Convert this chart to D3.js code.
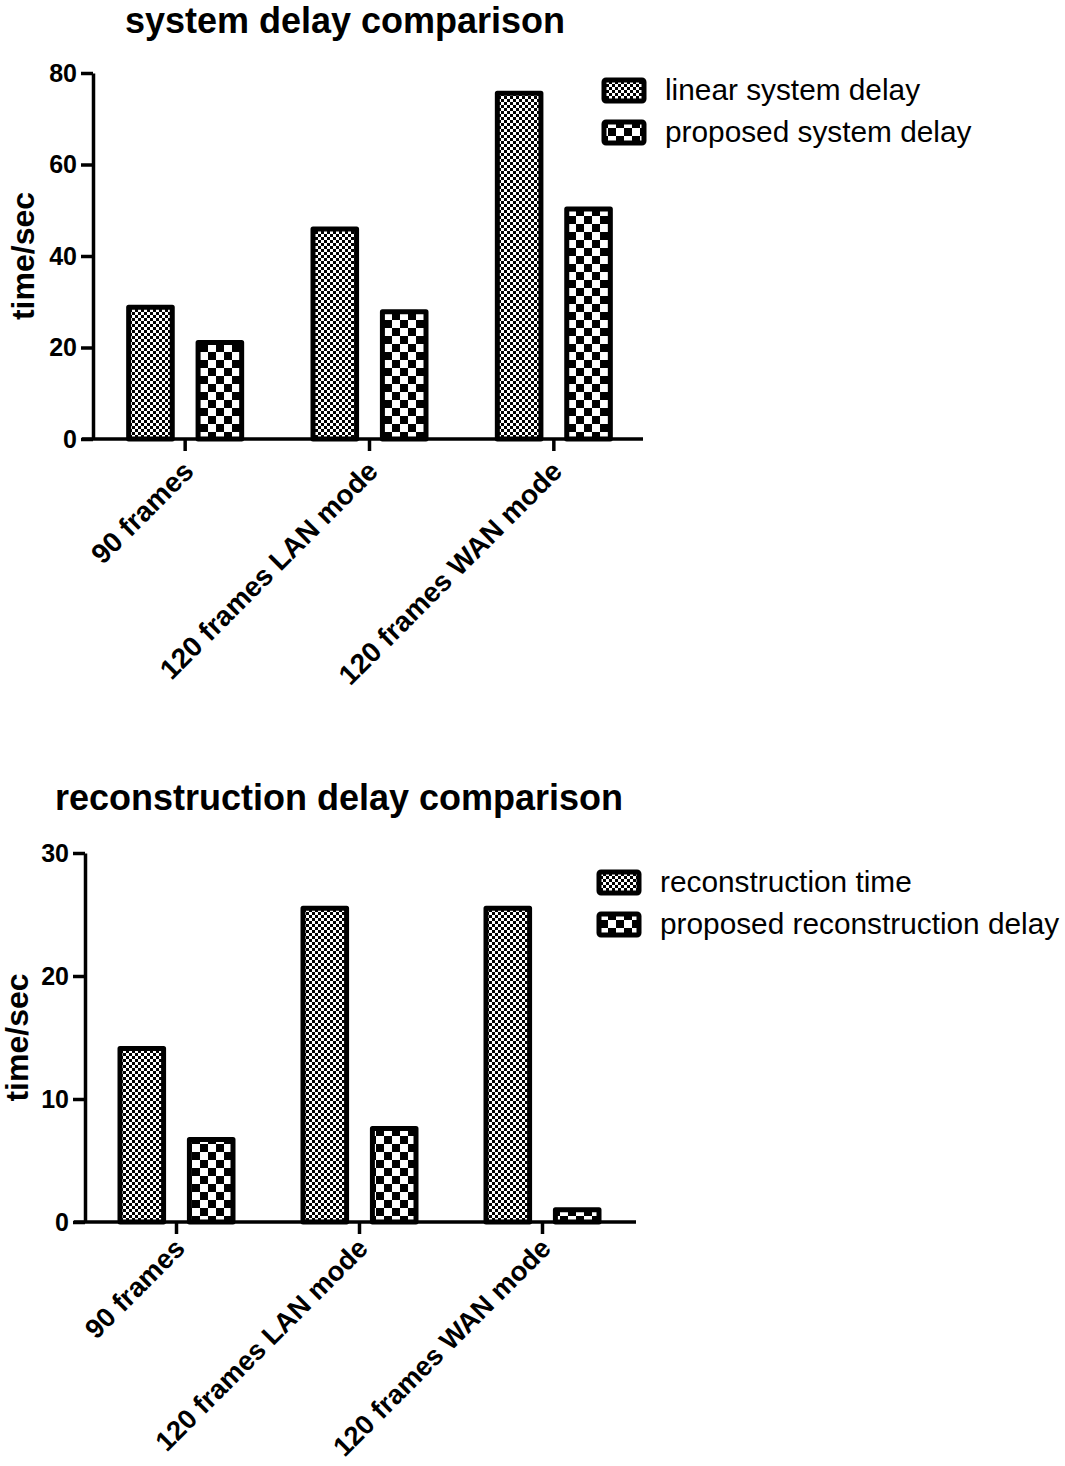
<!DOCTYPE html>
<html>
<head>
<meta charset="utf-8">
<script src="https://cdn.jsdelivr.net/npm/d3@7/dist/d3.min.js"></script>
<style>
  html, body { margin: 0; padding: 0; background: #fff; }
  svg { display: block; font-family: "Liberation Sans", Arial, sans-serif; }
</style>
</head>
<body>
<svg id="chart" width="1065" height="1466"></svg>
<script>
// ---- data ----
const categories = ["90 frames", "120 frames LAN mode", "120 frames WAN mode"];

const chart1Title = "system delay comparison";
const chart1Series = ["linear system delay", "proposed system delay"];
const linearSystemDelay = [28.8, 45.9, 75.6];
const proposedSystemDelay = [21.1, 27.8, 50.3];
const chart1Ticks = [0, 20, 40, 60, 80];

const chart2Title = "reconstruction delay comparison";
const chart2Series = ["reconstruction time", "proposed reconstruction delay"];
const reconstructionTime = [14.1, 25.5, 25.5];
const proposedReconstructionDelay = [6.7, 7.6, 1.0];
const chart2Ticks = [0, 10, 20, 30];

const yLabel = "time/sec";

// ---- drawing ----
const svg = d3.select("#chart");
const defs = svg.append("defs");

// fine checkerboard
const pf = defs.append("pattern").attr("id", "fine")
  .attr("patternUnits", "userSpaceOnUse").attr("width", 6).attr("height", 6);
pf.append("rect").attr("width", 6).attr("height", 6).attr("fill", "#fff");
pf.append("rect").attr("x", 0).attr("y", 0).attr("width", 3).attr("height", 3).attr("fill", "#000");
pf.append("rect").attr("x", 3).attr("y", 3).attr("width", 3).attr("height", 3).attr("fill", "#000");

// coarse checkerboard
const pc = defs.append("pattern").attr("id", "coarse")
  .attr("patternUnits", "userSpaceOnUse").attr("width", 16).attr("height", 16);
pc.append("rect").attr("width", 16).attr("height", 16).attr("fill", "#fff");
pc.append("rect").attr("x", 0).attr("y", 0).attr("width", 8).attr("height", 8).attr("fill", "#000");
pc.append("rect").attr("x", 8).attr("y", 8).attr("width", 8).attr("height", 8).attr("fill", "#000");

const patterns = ["url(#fine)", "url(#coarse)"];

function drawChart(cfg) {
  const g = svg.append("g");
  const y = d3.scaleLinear().domain(cfg.domain).range([cfg.y0, cfg.y1]);
  const x = d3.scaleBand().domain(categories).range([cfg.xL, cfg.xR]);
  const inner = d3.scaleBand().domain([0, 1]).range([-cfg.groupHalf, cfg.groupHalf]).paddingInner(cfg.innerPad);

  // title
  g.append("text").attr("x", cfg.titleX).attr("y", cfg.titleY)
    .attr("text-anchor", "middle").attr("font-weight", "bold").attr("font-size", 36)
    .text(cfg.title);

  // bars
  const series = cfg.series;
  series.forEach((vals, si) => {
    g.selectAll(null).data(vals).enter().append("rect")
      .attr("x", (d, i) => x(categories[i]) + x.bandwidth() / 2 + inner(si) + 2.5)
      .attr("y", d => y(d))
      .attr("width", inner.bandwidth() - 5)
      .attr("height", d => y(0) - y(d))
      .attr("fill", patterns[si])
      .attr("stroke", "#000").attr("stroke-width", 5)
      .attr("stroke-linejoin", "round");
  });

  // y axis
  const yAxis = d3.axisLeft(y).tickValues(cfg.ticks).tickSize(12).tickPadding(4).tickSizeOuter(0);
  const ya = g.append("g").attr("transform", `translate(${cfg.xL},0)`).call(yAxis);
  ya.select(".domain").attr("stroke", "#000").attr("stroke-width", 3.5);
  ya.selectAll(".tick line").attr("stroke", "#000").attr("stroke-width", 3.5);
  ya.selectAll(".tick text").attr("font-size", 25).attr("font-weight", "bold")
    .attr("font-family", "Liberation Sans, Arial, sans-serif").attr("fill", "#000");

  // x axis
  const xAxis = d3.axisBottom(x).tickSize(12).tickSizeOuter(0).tickFormat("");
  const xa = g.append("g").attr("transform", `translate(0,${y(0)})`).call(xAxis);
  xa.select(".domain").attr("stroke", "#000").attr("stroke-width", 3.5)
    .attr("d", `M${cfg.xL - 11},0H${cfg.axisEnd}`);
  xa.selectAll(".tick line").attr("stroke", "#000").attr("stroke-width", 3.5);

  // x labels rotated
  g.selectAll(null).data(categories).enter().append("text")
    .attr("transform", d => `translate(${x(d) + x.bandwidth() / 2 + 10},${y(0) + cfg.labelOffset}) rotate(-45)`)
    .attr("text-anchor", "end").attr("font-weight", "bold").attr("font-size", cfg.labelSize)
    .text(d => d);

  // y label
  g.append("text")
    .attr("transform", `translate(${cfg.yLabelX},${(y(0) + y(cfg.domain[1])) / 2}) rotate(-90)`)
    .attr("text-anchor", "middle").attr("font-weight", "bold").attr("font-size", 32)
    .text(yLabel);

  // legend
  cfg.legendNames.forEach((name, i) => {
    const ly = cfg.legendY + i * 42;
    g.append("rect").attr("x", cfg.legendX + 2).attr("y", ly + 2)
      .attr("width", 40).attr("height", 21)
      .attr("fill", patterns[i]).attr("stroke", "#000").attr("stroke-width", 5)
      .attr("rx", 2).attr("stroke-linejoin", "round");
    g.append("text").attr("x", cfg.legendX + 63).attr("y", ly + 22)
      .attr("font-size", 29.8).text(name);
  });
}

drawChart({
  title: chart1Title, titleX: 345, titleY: 33,
  domain: [0, 80], ticks: chart1Ticks, y0: 439, y1: 73,
  xL: 93, xR: 646, axisEnd: 643, groupHalf: 59, innerPad: 0.3,
  series: [linearSystemDelay, proposedSystemDelay],
  labelOffset: 34, labelSize: 28,
  yLabelX: 34,
  legendNames: chart1Series, legendX: 602, legendY: 78
});

drawChart({
  title: chart2Title, titleX: 339, titleY: 810,
  domain: [0, 30], ticks: chart2Ticks, y0: 1222, y1: 853,
  xL: 85, xR: 634, axisEnd: 636, groupHalf: 59, innerPad: 0.3,
  series: [reconstructionTime, proposedReconstructionDelay],
  labelOffset: 28, labelSize: 27.3,
  yLabelX: 28,
  legendNames: chart2Series, legendX: 597, legendY: 870
});
</script>
</body>
</html>
